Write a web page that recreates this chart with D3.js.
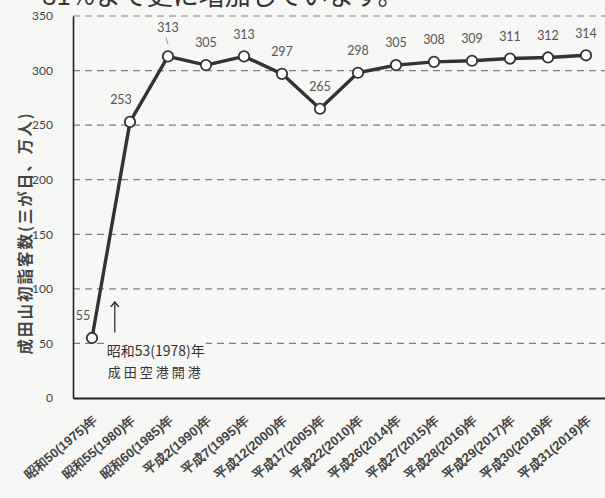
<!DOCTYPE html>
<html>
<head>
<meta charset="utf-8">
<script src="https://cdn.jsdelivr.net/npm/d3@7"></script>
<style>
  html, body { margin: 0; padding: 0; background: #f7f7f5; }
  svg { display: block; font-family: "Noto Sans CJK JP", "Noto Sans", sans-serif; }
</style>
</head>
<body>
<div id="chart"></div>
<script>
// 成田山初詣客数 (三が日、万人)
var categories = [
    "昭和50(1975)年", "昭和55(1980)年", "昭和60(1985)年", "平成2(1990)年",
    "平成7(1995)年", "平成12(2000)年", "平成17(2005)年", "平成22(2010)年",
    "平成26(2014)年", "平成27(2015)年", "平成28(2016)年", "平成29(2017)年",
    "平成30(2018)年", "平成31(2019)年"
];
var visitors = [55, 253, 313, 305, 313, 297, 265, 298, 305, 308, 309, 311, 312, 314];
var yTicks = [0, 50, 100, 150, 200, 250, 300, 350];
var yTitle = "成田山初詣客数(三が日、万人)";
var headline = "81%まで更に増加しています。";
var note = ["昭和53(1978)年", "成田空港開港"];
var noteAt = { index: 0.6, from: 60, to: 88, text: 43 };

var W = 605, H = 498;
var margin = { top: 16, right: 0, bottom: 100, left: 73 };
var width = W - margin.left - margin.right;
var height = H - margin.top - margin.bottom;

var root = d3.select("#chart").append("svg")
    .attr("width", W)
    .attr("height", H);

root.append("defs").append("marker")
    .attr("id", "arrow")
    .attr("viewBox", "0 0 10 10")
    .attr("refX", 5).attr("refY", 5)
    .attr("markerWidth", 8).attr("markerHeight", 8)
    .attr("orient", "auto")
    .append("path")
    .attr("d", "M0,1 L5,5 L0,9")
    .attr("fill", "none")
    .attr("stroke", "#333")
    .attr("stroke-width", 1.4);

// cut-off sentence from the article above the chart
root.append("text")
    .attr("x", 42)
    .attr("y", 5)
    .attr("font-size", "26px")
    .attr("fill", "#333")
    .text(headline);

var svg = root.append("g")
    .attr("transform", "translate(" + margin.left + "," + margin.top + ")");

var x = d3.scalePoint().domain(categories).range([0, width]).padding(0.5);
var y = d3.scaleLinear().domain([0, 350]).range([height, 0]);

// dashed grid
svg.selectAll(".grid")
    .data(yTicks.filter(function (d) { return d > 0; }))
    .enter().append("line")
    .attr("class", "grid")
    .attr("x1", 0).attr("x2", width)
    .attr("y1", function (d) { return y(d); })
    .attr("y2", function (d) { return y(d); })
    .attr("stroke", "#808080")
    .attr("stroke-width", 1.2)
    .attr("stroke-dasharray", "7,5");

// y axis
var yAxis = svg.append("g")
    .call(d3.axisLeft(y).tickValues(yTicks).tickSize(0).tickPadding(20));
yAxis.select(".domain").attr("stroke", "#222").attr("stroke-width", 1.6);
yAxis.selectAll("text").attr("font-size", "12px").attr("fill", "#444")
    .attr("font-family", "Lato, 'Noto Sans', sans-serif");

// x axis
var xAxis = svg.append("g")
    .attr("transform", "translate(0," + height + ")")
    .call(d3.axisBottom(x).tickSize(0).tickSizeOuter(0));
xAxis.select(".domain").attr("stroke", "#222").attr("stroke-width", 2);
xAxis.selectAll("text")
    .attr("font-size", "13px")
    .attr("font-weight", "bold")
    .attr("fill", "#444")
    .attr("text-anchor", "end")
    .attr("y", 0)
    .attr("dy", "0.35em")
    .attr("transform", "translate(3,20) rotate(-40)");

// y title
root.append("text")
    .attr("transform", "translate(26," + 233 + ") rotate(-90)")
    .attr("text-anchor", "middle")
    .attr("dy", "0.35em")
    .attr("font-size", "15.5px")
    .attr("font-weight", "bold")
    .attr("letter-spacing", "2px")
    .attr("fill", "#444")
    .text(yTitle);

// line
var line = d3.line()
    .x(function (d, i) { return x(categories[i]); })
    .y(function (d) { return y(d); });

svg.append("path")
    .datum(visitors)
    .attr("fill", "none")
    .attr("stroke", "#333")
    .attr("stroke-width", 3.4)
    .attr("stroke-linejoin", "round")
    .attr("d", line);

svg.selectAll(".dot")
    .data(visitors)
    .enter().append("circle")
    .attr("class", "dot")
    .attr("cx", function (d, i) { return x(categories[i]); })
    .attr("cy", function (d) { return y(d); })
    .attr("r", 5.2)
    .attr("fill", "#fff")
    .attr("stroke", "#333")
    .attr("stroke-width", 1.8);

// value labels
svg.selectAll(".val")
    .data(visitors)
    .enter().append("text")
    .attr("class", "val")
    .attr("x", function (d, i) { return x(categories[i]) + (i < 2 ? -9 : 0); })
    .attr("y", function (d, i) { return y(d) - (i === 2 ? 29 : 22); })
    .attr("dy", "0.35em")
    .attr("text-anchor", "middle")
    .attr("font-size", "12.5px")
    .attr("font-family", "Lato, 'Noto Sans', sans-serif")
    .attr("fill", "#555")
    .text(function (d) { return d; });

// small leader under the raised label
svg.append("line")
    .attr("x1", x(categories[2]) - 2).attr("x2", x(categories[2]))
    .attr("y1", y(visitors[2]) - 19).attr("y2", y(visitors[2]) - 12)
    .attr("stroke", "#999").attr("stroke-width", 1);

// airport opening note
var noteX = x(categories[0]) + x.step() * noteAt.index;
svg.append("line")
    .attr("x1", noteX).attr("x2", noteX)
    .attr("y1", y(noteAt.from)).attr("y2", y(noteAt.to))
    .attr("stroke", "#333").attr("stroke-width", 1.3)
    .attr("marker-end", "url(#arrow)");

var noteG = svg.append("g");
note.forEach(function (t, i) {
    var tx = noteG.append("text")
        .attr("x", noteX + 41)
        .attr("y", y(noteAt.text) + i * 21)
        .attr("dy", "0.35em")
        .attr("text-anchor", "middle")
        .attr("font-size", i === 0 ? "14px" : "13px")
        .attr("letter-spacing", i === 1 ? "3px" : "0px")
        .attr("fill", "#333")
        .text(t);
    var bb = tx.node().getBBox();
    noteG.insert("rect", "text")
        .attr("x", bb.x - 1).attr("y", bb.y + 2)
        .attr("width", bb.width + 2).attr("height", bb.height - 4)
        .attr("fill", "#f7f7f5");
});
</script>
</body>
</html>
